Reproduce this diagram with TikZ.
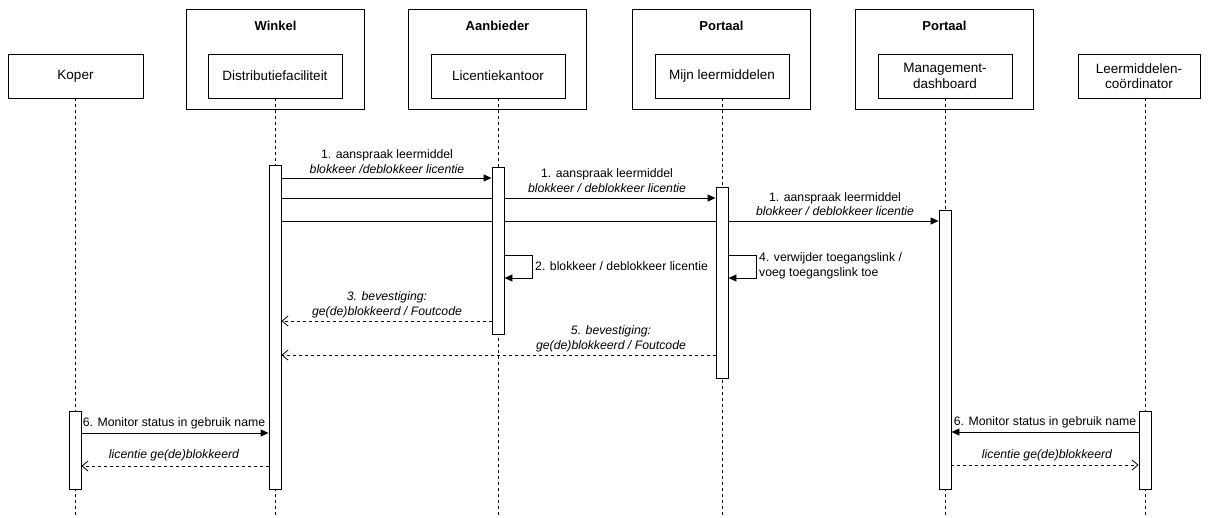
\documentclass[tikz,border=0pt]{standalone}
\usepackage{fontspec}
\setmainfont{Liberation Sans}
\usetikzlibrary{arrows.meta,calc}
\pgfdeclarelayer{bg}
\pgfsetlayers{bg,main}
\begin{document}
\begin{tikzpicture}[x=1pt,y=-1pt,
  box/.style={draw, line width=0.9pt, minimum width=134pt, minimum height=44pt, inner sep=0pt, align=center, font=\fontsize{13.5}{15.5}\selectfont},
  group/.style={draw, line width=0.9pt, minimum width=178pt, minimum height=100pt, inner sep=0pt},
  gtitle/.style={inner sep=0pt, font=\fontsize{13}{15}\selectfont\bfseries},
  life/.style={line width=0.8pt, dash pattern=on 3pt off 3pt},
  actbar/.style={draw, fill=white, line width=0.9pt, minimum width=12pt, inner sep=0pt, anchor=north},
  msg/.style={line width=0.9pt, -{Triangle[length=8pt,width=7pt]}},
  ret/.style={line width=0.8pt, dash pattern=on 3pt off 3pt, -{Straight Barb[length=6pt,width=10pt]}},
  lbl/.style={inner sep=0pt, align=center, font=\fontsize{12.25}{14.5}\selectfont},
  ilbl/.style={inner sep=0pt, align=center, font=\fontsize{12.25}{14.5}\selectfont\itshape},
]
\useasboundingbox (0,0) rectangle (1210,517);

% participants
\node[box, minimum width=135pt] (koper) at (75.5,76) {Koper};

\node[group] (gW) at (275.5,59) {};
\node[gtitle] (tW) at (275.5,26) {Winkel};
\node[box] (dist) at (275,76) {Distributiefaciliteit};

\node[group] (gA) at (497.5,59) {};
\node[gtitle] (tA) at (497.5,26) {Aanbieder};
\node[box] (lic) at (498,76) {Licentiekantoor};

\node[group] (gP) at (721.5,59) {};
\node[gtitle] (tP) at (721.5,26) {Portaal};
\node[box] (mijn) at (722,76) {Mijn leermiddelen};

\node[group] (gP2) at (944.5,59) {};
\node[gtitle] (tP2) at (944.5,26) {Portaal};
\node[box] (mgmt) at (945,76) {Management-\\dashboard};

\node[box, minimum width=122pt] (coord) at (1139,76) {Leermiddelen-\\coördinator};

% activation bars
\node[actbar, minimum height=324pt] (bD) at (275,165) {};
\node[actbar, minimum height=167pt] (bL) at (498,167) {};
\node[actbar, minimum height=191pt] (bM) at (722,187) {};
\node[actbar, minimum height=279pt] (bMD) at (945,210) {};
\node[actbar, minimum height=78pt] (bK) at (75,411) {};
\node[actbar, minimum height=78pt] (bC) at (1145,411) {};

\coordinate (yB) at (0,517);
\coordinate (cLife) at (1145,98);

\begin{pgfonlayer}{bg}
  % lifelines
  \draw[life] (koper.south -| bK.south) -- (bK.south |- yB);
  \draw[life] (dist.south) -- (dist.south |- yB);
  \draw[life] (lic.south) -- (lic.south |- yB);
  \draw[life] (mijn.south) -- (mijn.south |- yB);
  \draw[life] (mgmt.south) -- (mgmt.south |- yB);
  \draw[life] (cLife) -- (cLife |- yB);

  % messages
  \draw[msg] (bD.east |- 0,178) -- (bL.west |- 0,178);
  \draw[msg] (bD.east |- 0,198) -- (bM.west |- 0,198);
  \draw[msg] (bD.east |- 0,221) -- (bMD.west |- 0,221);
\end{pgfonlayer}

% self messages
\draw[msg] (bL.east |- 0,255) -- ++(28,0) -- ++(0,23) -- (bL.east |- 0,278);
\draw[msg] (bM.east |- 0,255) -- ++(28,0) -- ++(0,23) -- (bM.east |- 0,278);

% returns
\draw[ret] (bL.west |- 0,321) -- (bD.east |- 0,321);
\draw[ret] (bM.west |- 0,355) -- (bD.east |- 0,355);

% bottom exchanges
\draw[msg] (bK.east |- 0,433) -- (bD.west |- 0,433);
\draw[ret] (bD.west |- 0,466) -- (bK.east |- 0,466);
\draw[msg] (bC.west |- 0,432) -- (bMD.east |- 0,432);
\draw[ret] (bMD.east |- 0,465) -- (bC.west |- 0,465);

% labels
\node[lbl] (l1a) at (387,161.5) {1. aanspraak leermiddel\\\itshape blokkeer /deblokkeer licentie};
\node[lbl] (l1b) at (607,180.5) {1. aanspraak leermiddel\\\itshape blokkeer / deblokkeer licentie};
\node[lbl] (l1c) at (835,204) {1. aanspraak leermiddel\\\itshape blokkeer / deblokkeer licentie};
\node[lbl, anchor=west] (l2) at (535,266) {2. blokkeer / deblokkeer licentie};
\node[lbl, anchor=west, align=left] (l4) at (759,266) {4. verwijder toegangslink /\\voeg toegangslink toe};
\node[ilbl] (l3) at (387,305) {3. bevestiging:\\ge(de)blokkeerd / Foutcode};
\node[ilbl] (l5) at (611,339) {5. bevestiging:\\ge(de)blokkeerd / Foutcode};
\node[lbl] (l6a) at (174,423) {6. Monitor status in gebruik name};
\node[ilbl] (r6a) at (174,455) {licentie ge(de)blokkeerd};
\node[lbl] (l6b) at (1045,422) {6. Monitor status in gebruik name};
\node[ilbl] (r6b) at (1047,455) {licentie ge(de)blokkeerd};
\end{tikzpicture}
\end{document}
